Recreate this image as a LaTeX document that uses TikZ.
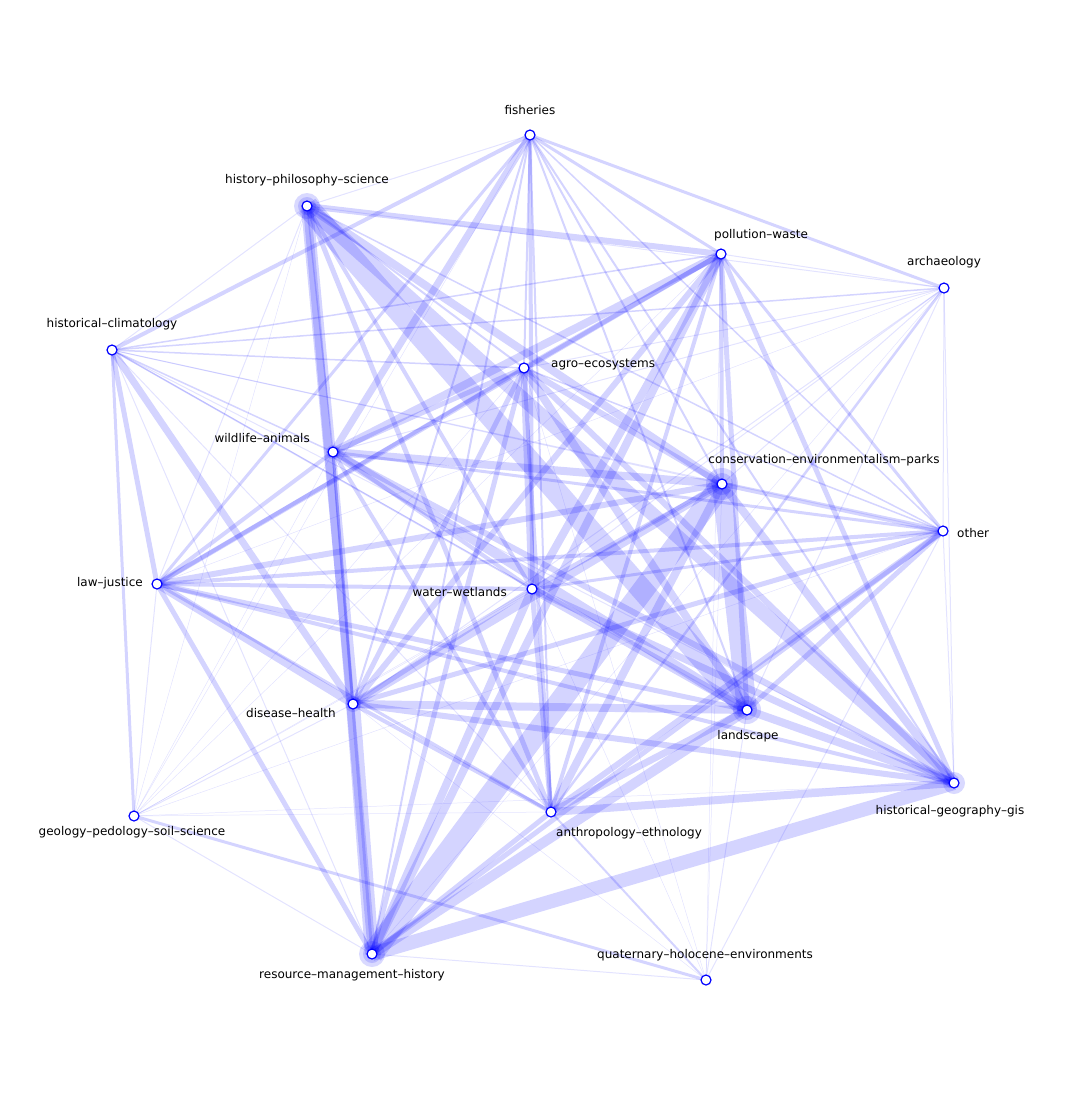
\documentclass[tikz,border=0pt]{standalone}
\usepackage{fontspec}
\setmainfont{DejaVu Sans}
\usetikzlibrary{backgrounds}
\definecolor{netblue}{RGB}{0,0,255}
\tikzset{
  vert/.style={circle,draw=netblue,fill=white,line width=1.2pt,minimum size=10pt,inner sep=0pt},
  lbl/.style={font=\fontsize{12}{14}\selectfont,text=black,inner sep=0pt},
  edge/.style={draw=netblue,draw opacity=0.17},
  halo/.style={fill=netblue,fill opacity=0.15}
}
\begin{document}
\begin{tikzpicture}[x=1pt,y=-1pt]
\useasboundingbox (0,0) rectangle (1067,1096);
% nodes
\node[vert] (fi) at (530,135) {};
\node[vert] (hp) at (307,206) {};
\node[vert] (pw) at (721,254) {};
\node[vert] (ar) at (944,288) {};
\node[vert] (hc) at (112,350) {};
\node[vert] (ag) at (524,368) {};
\node[vert] (wa) at (333,452) {};
\node[vert] (co) at (722,484) {};
\node[vert] (ot) at (943,531) {};
\node[vert] (lj) at (157,584) {};
\node[vert] (ww) at (532,589) {};
\node[vert] (dh) at (353,704) {};
\node[vert] (la) at (747,710) {};
\node[vert] (hg) at (954,783) {};
\node[vert] (ge) at (134,816) {};
\node[vert] (an) at (551,812) {};
\node[vert] (rm) at (372,954) {};
\node[vert] (qh) at (706,980) {};
% labels
\node[lbl] (tfi) at (530,110) {fisheries};
\node[lbl] (thp) at (307,180) {history–philosophy–science};
\node[lbl] (tpw) at (761,235) {pollution–waste};
\node[lbl] (tar) at (944,262) {archaeology};
\node[lbl] (thc) at (112,324) {historical–climatology};
\node[lbl,anchor=west] (tag) at (551,365) {agro–ecosystems};
\node[lbl,anchor=east] (twa) at (310,438) {wildlife–animals};
\node[lbl] (tco) at (824,460) {conservation–environmentalism–parks};
\node[lbl,anchor=west] (tot) at (957,533) {other};
\node[lbl,anchor=east] (tlj) at (143,583) {law–justice};
\node[lbl,anchor=east] (tww) at (507,592) {water–wetlands};
\node[lbl,anchor=east] (tdh) at (336,713) {disease–health};
\node[lbl] (tla) at (748,736) {landscape};
\node[lbl] (thg) at (950,811) {historical–geography–gis};
\node[lbl] (tge) at (132,832) {geology–pedology–soil–science};
\node[lbl] (tan) at (629,833) {anthropology–ethnology};
\node[lbl] (trm) at (352,975) {resource–management–history};
\node[lbl] (tqh) at (705,955) {quaternary–holocene–environments};
\begin{pgfonlayer}{background}
\foreach \a/\b/\w in {
 fi/pw/3, fi/ar/3, fi/hc/4, fi/ag/2, fi/wa/7, fi/co/2, fi/ot/1.5, fi/lj/3, fi/ww/4, fi/dh/2, fi/la/2, fi/hg/2, fi/an/2, fi/rm/2,
 hp/pw/6, hp/ag/2, hp/wa/1.5, hp/co/8, hp/ot/1.5, hp/ww/4, hp/dh/12, hp/la/22, hp/hg/14, hp/an/5, hp/rm/8,
 pw/hc/1.5, pw/ag/5, pw/wa/8, pw/co/4, pw/ot/3, pw/lj/5, pw/ww/8, pw/dh/6, pw/la/5, pw/hg/5, pw/an/4, pw/rm/8,
 ar/hc/1.5, ar/an/2.5,
 hc/ag/1.5, hc/wa/1.5, hc/lj/5, hc/ww/1.5, hc/dh/7, hc/ge/3,
 ag/wa/5, ag/co/6, ag/ot/1.5, ag/lj/4, ag/ww/7, ag/dh/5, ag/la/8, ag/hg/6, ag/an/4, ag/rm/5,
 wa/co/8, wa/ot/3, wa/lj/4, wa/ww/4, wa/dh/3, wa/la/10, wa/hg/6, wa/an/4, wa/rm/3,
 co/ot/5, co/lj/6, co/ww/5, co/dh/8, co/la/20, co/hg/8, co/an/8, co/rm/22,
 ot/lj/4, ot/ww/3, ot/dh/5, ot/la/5, ot/an/6, ot/rm/5,
 lj/ww/4, lj/dh/8, lj/la/5, lj/hg/4, lj/an/3, lj/rm/5,
 ww/dh/5, ww/la/8, ww/hg/7, ww/an/5, ww/rm/8,
 dh/la/8, dh/hg/6, dh/an/4, dh/rm/14,
 la/hg/8, la/an/7, la/rm/10,
 hg/an/8, hg/rm/14,
 ge/qh/3,
 an/rm/5, an/qh/2}
 \draw[edge,line width=\w pt] (\a.center) -- (\b.center);
\foreach \a/\b/\w in {
 fi/hp/1, fi/ge/0.5, hp/ar/1, hp/hc/1, hp/lj/1, hp/ge/0.5,
 pw/ar/1, pw/ge/0.5, pw/qh/0.5,
 ar/ag/1, ar/wa/1, ar/co/1, ar/ot/1, ar/lj/0.5, ar/ww/1, ar/dh/1, ar/la/1, ar/hg/1, ar/rm/0.5,
 hc/co/1, hc/ot/1, hc/la/1, hc/hg/1, hc/an/1, hc/rm/1,
 ag/ge/0.5, ag/qh/0.5, wa/ge/0.5, co/ge/0.5, co/qh/0.5,
 ot/hg/1, ot/ge/0.5, ot/qh/1, lj/ge/1, ww/ge/0.5, ww/qh/0.5,
 dh/ge/1, dh/qh/0.5, la/qh/1, hg/ge/0.5, ge/an/0.5, ge/rm/1, rm/qh/1}
 \draw[draw=netblue,draw opacity=0.11,line width=\w pt] (\a.center) -- (\b.center);
% halos
\fill[halo] (hp.center) circle (13);
\fill[halo] (hp.center) circle (9);
\fill[halo] (co.center) circle (16);
\fill[halo] (co.center) circle (11);
\fill[halo] (la.center) circle (14);
\fill[halo] (la.center) circle (10);
\fill[halo] (rm.center) circle (13);
\fill[halo] (rm.center) circle (9);
\fill[halo] (hg.center) circle (11);
\fill[halo] (dh.center) circle (8);
\fill[halo] (wa.center) circle (7);
\end{pgfonlayer}
\end{tikzpicture}
\end{document}
